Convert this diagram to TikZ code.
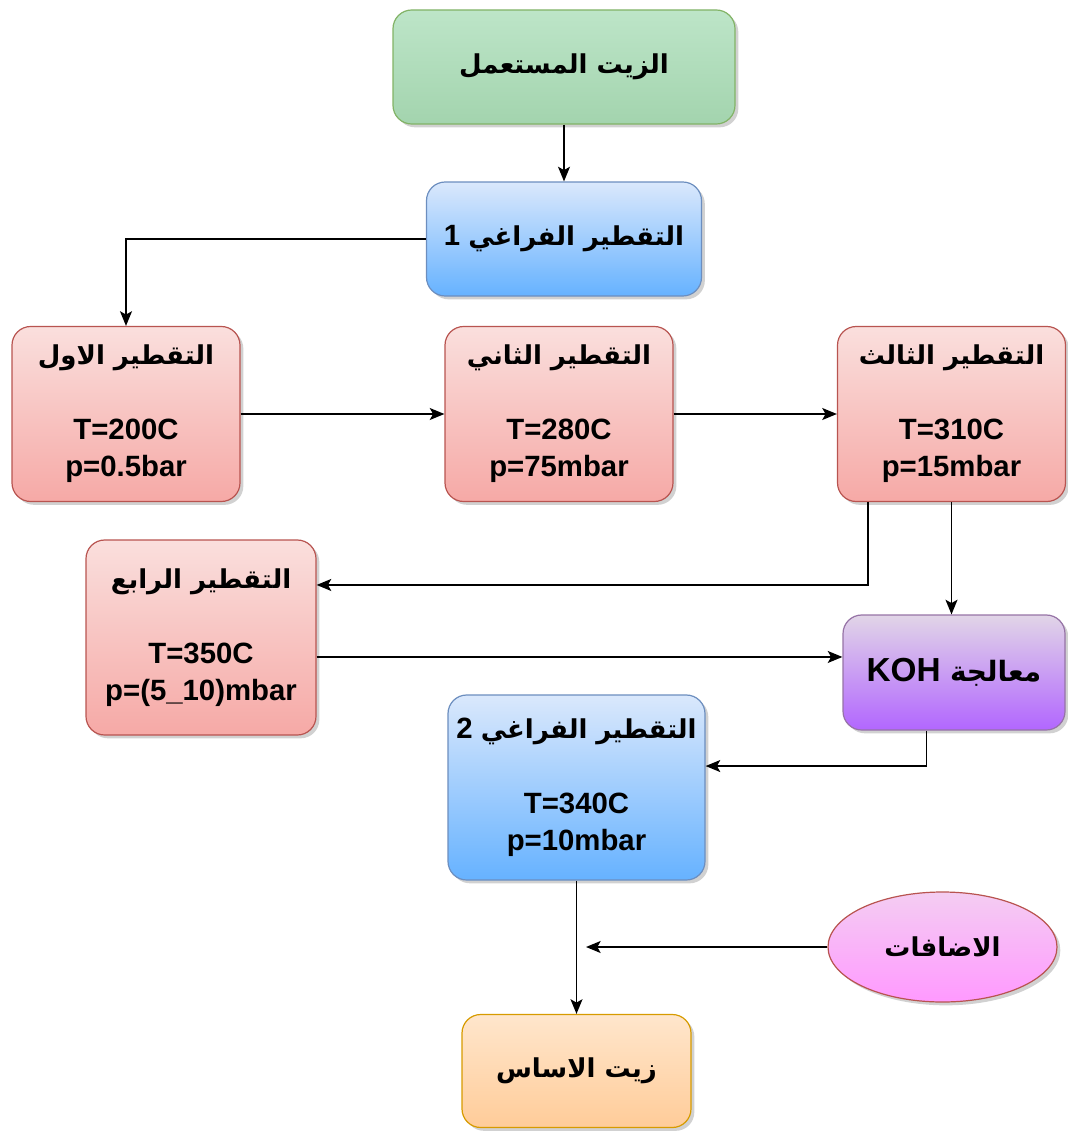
\documentclass[tikz,border=0pt]{standalone}
\usepackage{fontspec}
\setmainfont{Liberation Sans}
\newfontfamily\arabicfont[Script=Arabic]{DejaVu Sans}
\TeXXeTstate=1
\usetikzlibrary{arrows.meta,shadows,shapes.geometric}
\definecolor{grnT}{HTML}{BDE5C8}\definecolor{grnB}{HTML}{A3D4AE}\definecolor{grnS}{HTML}{82B366}
\definecolor{bluT}{HTML}{DAE8FC}\definecolor{bluB}{HTML}{66B2FF}\definecolor{bluS}{HTML}{6C8EBF}
\definecolor{redT}{HTML}{FADFDD}\definecolor{redB}{HTML}{F6A9A6}\definecolor{redS}{HTML}{B85450}
\definecolor{purT}{HTML}{E1D5E7}\definecolor{purB}{HTML}{B266FF}\definecolor{purS}{HTML}{9673A6}
\definecolor{pnkT}{HTML}{F4CDF2}\definecolor{pnkB}{HTML}{FF99FF}
\definecolor{orgT}{HTML}{FFE6CC}\definecolor{orgB}{HTML}{FFCC99}\definecolor{orgS}{HTML}{D79B00}
\newcommand{\ar}[1]{{\arabicfont\bfseries\fontsize{19.5}{28}\selectfont\beginR #1\endR}}
\tikzset{
  box/.style={rounded corners=14pt, line width=0.9pt, align=center, inner sep=0pt,
    font=\bfseries\fontsize{22}{28}\selectfont,
    drop shadow={shadow xshift=2.5pt, shadow yshift=-2.5pt, opacity=0.3, fill=black!60}},
  grnbox/.style={box, draw=grnS, top color=grnT, bottom color=grnB},
  blubox/.style={box, draw=bluS, top color=bluT, bottom color=bluB},
  redbox/.style={box, draw=redS, top color=redT, bottom color=redB},
  purbox/.style={box, draw=purS, top color=purT, bottom color=purB},
  orgbox/.style={box, draw=orgS, top color=orgT, bottom color=orgB},
  arr/.style={line width=1.1pt, -{Stealth[length=11pt,width=9pt,inset=2.5pt]}}
}
\begin{document}
\begin{tikzpicture}[x=0.75pt,y=-0.75pt]
\useasboundingbox (0,0) rectangle (1067,1131);
\node[grnbox, minimum width=256.5pt, minimum height=85.5pt] (oil) at (564,67) {\ar{الزيت  المستعمل}};
\node[blubox, minimum width=206.25pt, minimum height=85.5pt] (vac1) at (564,239) {1 \ar{التقطير الفراغي}};
\node[redbox, minimum width=171pt, minimum height=131.25pt] (d1) at (126,414) {\ar{التقطير الاول}\\[28pt]T=200C\\p=0.5bar};
\node[redbox, minimum width=171pt, minimum height=131.25pt] (d2) at (559,414) {\ar{التقطير الثاني}\\[28pt]T=280C\\p=75mbar};
\node[redbox, minimum width=171pt, minimum height=131.25pt] (d3) at (951.5,414) {\ar{التقطير الثالث}\\[28pt]T=310C\\p=15mbar};
\node[redbox, minimum width=172.5pt, minimum height=146.25pt] (d4) at (201,637.5) {\ar{التقطير الرابع}\\[28pt]T=350C\\p=(5\_10)mbar};
\node[purbox, minimum width=166.5pt, minimum height=86.25pt, font=\bfseries\fontsize{25}{28}\selectfont] (koh) at (954,672.5) {KOH {\arabicfont\bfseries\fontsize{21}{28}\selectfont\beginR معالجة\endR}};
\node[blubox, minimum width=192.75pt, minimum height=138.75pt] (vac2) at (576.5,787.5) {2 \ar{التقطير الفراغي}\\[28pt]T=340C\\p=10mbar};
\node[ellipse, draw=redS, line width=0.9pt, top color=pnkT, bottom color=pnkB, minimum width=171.75pt, minimum height=82.5pt, inner sep=0pt,
  drop shadow={shadow xshift=2.5pt, shadow yshift=-2.5pt, opacity=0.3, fill=black!60}] (add) at (942.5,947) {\ar{الاضافات}};
\node[orgbox, minimum width=171.75pt, minimum height=84.75pt] (base) at (576.5,1071) {\ar{زيت الاساس}};
\coordinate (join) at (586,947);
\draw[arr] (oil.south) -- (vac1.north);
\draw[arr] (vac1.west) -| (d1.north);
\draw[arr] (d1.east) -- (d2.west);
\draw[arr] (d2.east) -- (d3.west);
\draw[arr] ([xshift=-62.6pt]d3.south) |- ([yshift=39.4pt]d4.east);
\draw[arr] (d3.south) -- (d3.south |- koh.north);
\draw[arr] ([yshift=-14.6pt]d4.east) -- ([yshift=-14.6pt]d4.east -| koh.west);
\draw[arr] ([xshift=-20.6pt]koh.south) |- ([yshift=16.1pt]vac2.east);
\draw[arr] (vac2.south) -- (vac2.south |- base.north);
\draw[arr] (add.west) -- (join);
\end{tikzpicture}
\end{document}
